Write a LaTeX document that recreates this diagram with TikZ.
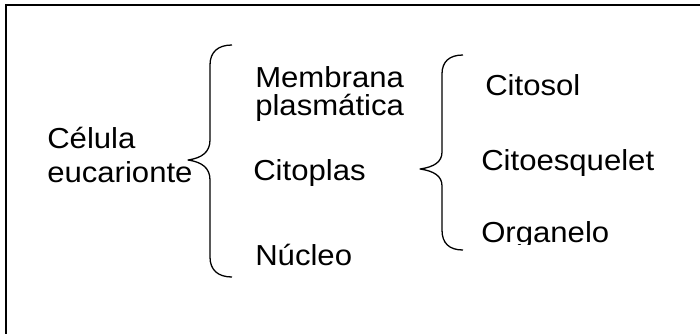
\documentclass[tikz,border=0pt]{standalone}
\usepackage{fontspec}
\setmainfont{Liberation Sans}

\begin{document}
\begin{tikzpicture}[
  x=0.03cm, y=-0.03cm,
  every node/.style={inner sep=0pt},
  label/.style={anchor=base west, xscale=1.075,
    font=\fontsize{24.7pt}{29pt}\selectfont},
  frame/.style={draw, line width=1.3pt},
  brace/.style={draw, line width=1.1pt, line join=round}]

  \useasboundingbox (0,0) rectangle (700,333);
  \clip (0,0) rectangle (700,333);

  % ---- the frame, running out past the right and lower edges -------------
  \draw[frame] (6,5) rectangle (720,350);

  % ---- first level --------------------------------------------------------
  \node[label] (celula) at (47,148) {Célula};
  \node[label] (eucarionte) at (47,182) {eucarionte};

  % ---- second level -------------------------------------------------------
  \node[label] (membrana) at (255,87) {Membrana};
  \node[label] (plasmatica) at (255,115) {plasmática};
  \node[label] (citoplas) at (253,180) {Citoplas};
  \node[label] (nucleo) at (255,265) {Núcleo};

  % ---- third level --------------------------------------------------------
  \node[label] (citosol) at (485,95) {Citosol};
  \node[label] (citoesq) at (481,170) {Citoesquelet};
  \begin{scope}
    \clip (470,200) rectangle (660,244);
    \node[label] (organelo) at (481,242) {Organelo};
  \end{scope}

  % ---- the big brace ------------------------------------------------------
  \draw[brace] (232,45) .. controls (218,45) and (210,52) .. (210,65)
    -- (210,140) .. controls (210,152) and (202,158) .. (188,160)
    .. controls (202,162) and (210,168) .. (210,180)
    -- (210,257) .. controls (210,270) and (218,277) .. (232,277);

  % ---- the small brace ----------------------------------------------------
  \draw[brace] (463,55) .. controls (449,55) and (442,62) .. (442,74)
    -- (442,152) .. controls (442,162) and (434,167) .. (420,169)
    .. controls (434,171) and (442,176) .. (442,186)
    -- (442,230) .. controls (442,243) and (449,250) .. (463,250);
\end{tikzpicture}
\end{document}
